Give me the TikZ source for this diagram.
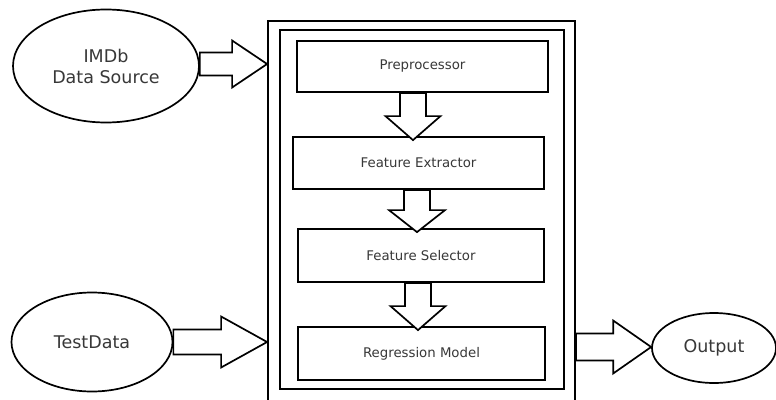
\documentclass[tikz,border=0pt]{standalone}
\usepackage{fontspec}
\setmainfont{DejaVu Sans}
\usetikzlibrary{shapes.geometric,calc}
\tikzset{
  every node/.style={text=black!78},
  oval/.style={draw=black, ellipse, line width=1.7pt, inner sep=0pt, align=center,
               font=\fontsize{17.5}{21}\selectfont},
  frame/.style={draw=black, rectangle, line width=1.8pt, inner sep=0pt},
  stepbox/.style={draw=black, rectangle, line width=1.8pt, inner sep=0pt,
               font=\fontsize{13.3}{16}\selectfont},
  blockarrow/.style={draw=black, fill=white, line width=1.7pt, line join=miter},
}
% #1 back centre, #2 tip, #3 shaft half width, #4 head half width, #5 head length
\newcommand\blockarr[5]{%
  \path (#1) coordinate (baA) (#2) coordinate (baB);
  \path ($(baB)!#5!(baA)$) coordinate (baH);
  \draw[blockarrow] ($(baA)!#3!90:(baB)$) -- ($(baH)!#3!90:(baB)$)
     -- ($(baH)!#4!90:(baB)$) -- (baB) -- ($(baH)!#4!-90:(baB)$)
     -- ($(baH)!#3!-90:(baB)$) -- ($(baA)!#3!-90:(baB)$) -- cycle;
}
\begin{document}
\begin{tikzpicture}[x=1pt,y=-1pt]
\useasboundingbox[fill=white] (0,0) rectangle (776,399);

% frames
\node[frame, minimum width=307pt, minimum height=389pt] (outer) at (421.5,215.5) {};
\node[frame, minimum width=284pt, minimum height=359pt] (inner) at (422,209.5) {};

% steps
\node[stepbox, minimum width=251pt, minimum height=51pt] (pre) at (422.5,66.5) {Preprocessor};
\node[stepbox, minimum width=251pt, minimum height=52pt] (fe) at (418.5,163) {Feature Extractor};
\node[stepbox, minimum width=246pt, minimum height=53pt] (fs) at (421,255.5) {Feature Selector};
\node[stepbox, minimum width=247pt, minimum height=53pt] (rm) at (421.5,353.5) {Regression Model};

% ovals
\node[oval, minimum width=186pt, minimum height=113pt] (imdb) at (106,66) {IMDb\\Data Source};
\node[oval, minimum width=161pt, minimum height=99pt] (test) at (92,342) {TestData};
\node[oval, minimum width=124pt, minimum height=70pt] (out) at (714,348) {Output};

% block arrows
\coordinate (a1s) at ($(pre.south)+(-9.5,0)$);
\coordinate (a1e) at ($(a1s |- fe.north)+(0,4)$);
\coordinate (a2s) at ($(fe.south)+(-1.5,0)$);
\coordinate (a2e) at ($(a2s |- fs.north)+(0,4)$);
\coordinate (a3s) at ($(fs.south)+(-3,0)$);
\coordinate (a3e) at ($(a3s |- rm.north)+(0,4)$);
\blockarr{a1s}{a1e}{13pt}{27.5pt}{24pt}
\blockarr{a2s}{a2e}{13pt}{28pt}{22pt}
\blockarr{a3s}{a3e}{13pt}{27.5pt}{24pt}

\coordinate (i1s) at ($(imdb.east)+(0,-2)$);
\coordinate (i1e) at (i1s -| outer.west);
\blockarr{i1s}{i1e}{11.5pt}{23.5pt}{35pt}
\blockarr{test.east}{test.east -| outer.west}{12.5pt}{25.5pt}{46pt}
\coordinate (o1s) at ($(out.west -| outer.east)+(0,-1)$);
\coordinate (o1e) at ($(out.west)+(0,-1)$);
\blockarr{o1s}{o1e}{13.5pt}{26.5pt}{38pt}
\end{tikzpicture}
\end{document}
